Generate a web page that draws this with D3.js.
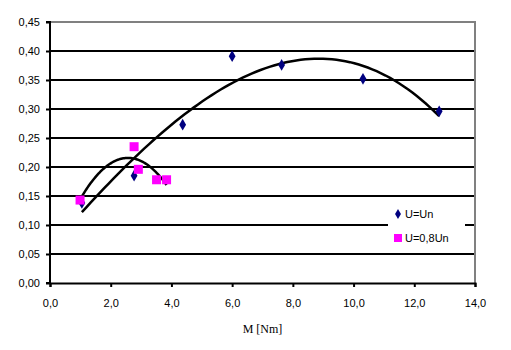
<!DOCTYPE html>
<html><head><meta charset="utf-8">
<script src="https://cdn.jsdelivr.net/npm/d3@7"></script>
<style>body{margin:0;background:#fff}svg{display:block}</style>
</head><body>
<script>
const seriesNames = ["U=Un", "U=0,8Un"];
const unX = [1.05, 2.77, 4.37, 6.0, 7.63, 10.31, 12.82];
const unY = [0.138, 0.185, 0.273, 0.391, 0.376, 0.352, 0.296];
const u8X = [0.99, 2.77, 2.91, 3.51, 3.84];
const u8Y = [0.143, 0.235, 0.196, 0.178, 0.178];
const xTicks = [0, 2, 4, 6, 8, 10, 12, 14];
const yTicks = [0, 0.05, 0.10, 0.15, 0.20, 0.25, 0.30, 0.35, 0.40, 0.45];
const xLabel = "M [Nm]";
const trendOrder = [3, 2];

const W = 511, H = 350;
const svg = d3.select("body").append("svg").attr("width", W).attr("height", H);
const x = d3.scaleLinear().domain([0, 14]).range([50, 475]);
const y = d3.scaleLinear().domain([0, 0.45]).range([283, 22]);
const fmt = v => v.toFixed(2).replace(".", ",");
const fmtx = v => v.toFixed(1).replace(".", ",");

svg.append("g").selectAll("line").data(yTicks.filter(v => v > 0 && v < 0.45)).join("line")
  .attr("x1", x(0)).attr("x2", x(14)).attr("y1", d => y(d)).attr("y2", d => y(d))
  .attr("stroke", "#000").attr("stroke-width", 2);
svg.append("path").attr("d", `M${x(0)},${y(0.45)}H${x(14)}V${y(0)}`)
  .attr("fill", "none").attr("stroke", "#808080").attr("stroke-width", 2);

// polynomial least-squares trend (like a spreadsheet trendline)
function polyFit(xs, ys, order) {
  const m = order + 1;
  const A = Array.from({length: m}, () => new Array(m + 1).fill(0));
  xs.forEach((xv, i) => {
    for (let r = 0; r < m; r++) {
      for (let c = 0; c < m; c++) A[r][c] += Math.pow(xv, r + c);
      A[r][m] += ys[i] * Math.pow(xv, r);
    }
  });
  for (let i = 0; i < m; i++) {
    for (let j = i + 1; j < m; j++) {
      const f = A[j][i] / A[i][i];
      for (let k = i; k <= m; k++) A[j][k] -= f * A[i][k];
    }
  }
  const c = new Array(m).fill(0);
  for (let i = m - 1; i >= 0; i--) {
    let v = A[i][m];
    for (let k = i + 1; k < m; k++) v -= A[i][k] * c[k];
    c[i] = v / A[i][i];
  }
  return xv => c.reduce((s, ck, k) => s + ck * Math.pow(xv, k), 0);
}
function trend(xs, ys, order) {
  const f = polyFit(xs, ys, order);
  const lo = d3.min(xs), hi = d3.max(xs);
  const pts = d3.range(0, 81).map(i => lo + (hi - lo) * i / 80);
  svg.append("path").datum(pts)
    .attr("d", d3.line().x(d => x(d)).y(d => y(f(d))))
    .attr("fill", "none").attr("stroke", "#000").attr("stroke-width", 2.5);
}
trend(unX, unY, trendOrder[0]);
trend(u8X, u8Y, trendOrder[1]);

const xAxis = svg.append("g").attr("transform", `translate(0,${y(0)})`)
  .call(d3.axisBottom(x).tickValues(xTicks).tickFormat(fmtx).tickSize(4).tickPadding(12));
const yAxis = svg.append("g").attr("transform", `translate(${x(0)},0)`)
  .call(d3.axisLeft(y).tickValues(yTicks).tickFormat(fmt).tickSize(4).tickPadding(6));
[xAxis, yAxis].forEach(g => {
  g.select(".domain").attr("stroke", "#000").attr("stroke-width", 2);
  g.selectAll(".tick line").attr("stroke", "#000").attr("stroke-width", 2);
  g.selectAll("text").attr("font-family", "Liberation Sans, Arial, sans-serif")
    .attr("font-size", 11).attr("fill", "#000");
});
yAxis.select(".domain").attr("d", `M-4,${y(0)}H0V${y(0.45)}H-4`);

const diamond = d3.symbol().type(d3.symbolDiamond).size(40);
svg.append("g").selectAll("path").data(unX.map((v, i) => [v, unY[i]])).join("path")
  .attr("d", diamond).attr("transform", d => `translate(${x(d[0])},${y(d[1])})`)
  .attr("fill", "#000080");
svg.append("g").selectAll("rect").data(u8X.map((v, i) => [v, u8Y[i]])).join("rect")
  .attr("x", d => x(d[0]) - 4.5).attr("y", d => y(d[1]) - 4.5)
  .attr("width", 9).attr("height", 9).attr("fill", "#ff00ff");

const lg = svg.append("g");
lg.append("rect").attr("x", 388).attr("y", 203).attr("width", 77).attr("height", 46).attr("fill", "#fff");
lg.append("path").attr("d", d3.symbol().type(d3.symbolDiamond).size(30)())
  .attr("transform", "translate(398,214)").attr("fill", "#000080");
lg.append("rect").attr("x", 394).attr("y", 234).attr("width", 8).attr("height", 8).attr("fill", "#ff00ff");
lg.selectAll("text").data(seriesNames).join("text")
  .attr("x", 405).attr("y", (d, i) => 218 + i * 24)
  .attr("font-family", "Liberation Sans, Arial, sans-serif").attr("font-size", 11)
  .text(d => d);

svg.append("text").attr("x", (x(0) + x(14)) / 2).attr("y", 333).attr("text-anchor", "middle")
  .attr("font-family", "Liberation Serif, Times New Roman, serif").attr("font-size", 12)
  .text(xLabel);
</script>
</body></html>
